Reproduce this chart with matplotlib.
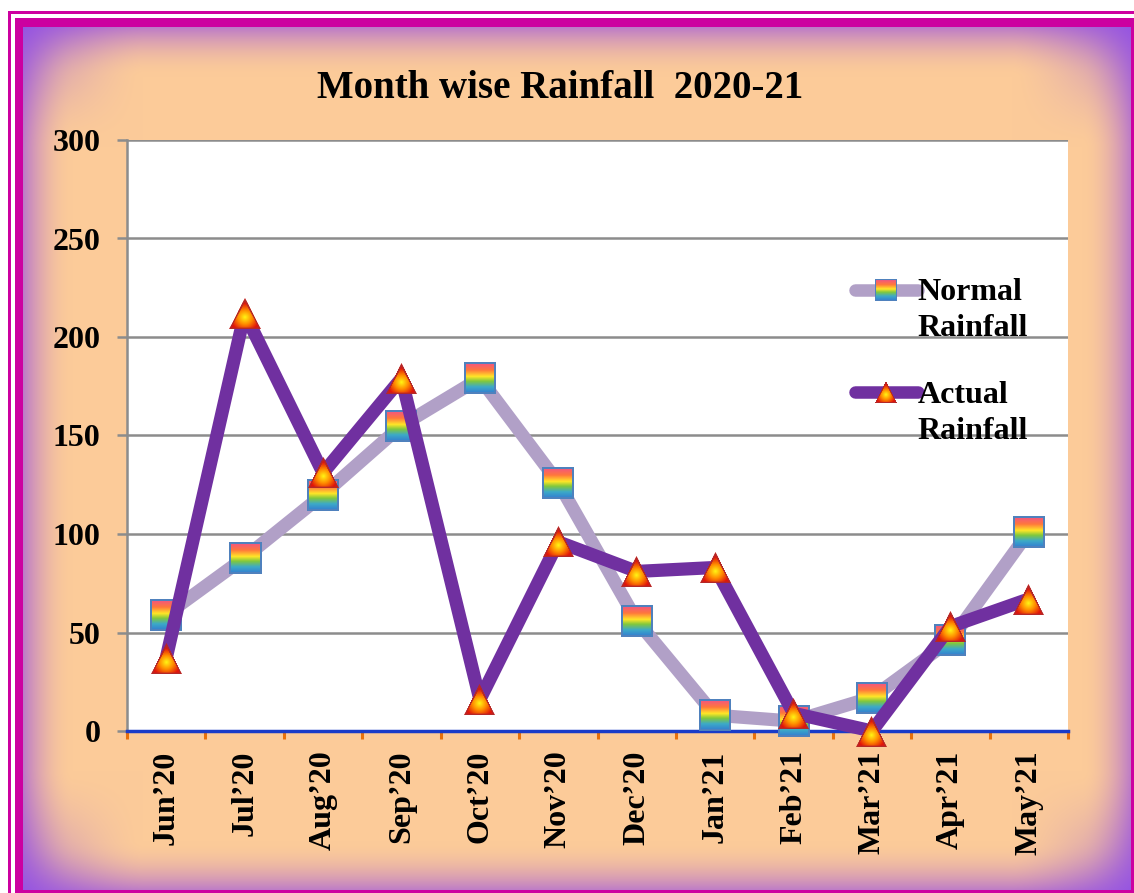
import numpy as np
import matplotlib
matplotlib.use("Agg")
import matplotlib.pyplot as plt
from matplotlib.lines import Line2D
from matplotlib.offsetbox import OffsetImage, AnnotationBbox

# data
months = ["Jun\u201920", "Jul\u201920", "Aug\u201920", "Sep\u201920", "Oct\u201920", "Nov\u201920",
          "Dec\u201920", "Jan\u201921", "Feb\u201921", "Mar\u201921", "Apr\u201921", "May\u201921"]
normal_rainfall = [59, 88, 120, 155, 179, 126, 56, 8, 5, 17, 46, 101]
actual_rainfall = [37, 212, 131, 179, 16, 96, 81, 83, 9, 0, 53, 67]

W, H = 1134, 893
FONT = ["Liberation Serif", "DejaVu Serif"]
NORMAL_COLOR = "#B1A0C7"
ACTUAL_COLOR = "#7030A0"


def background():
    img = np.ones((H, W, 3))
    magenta = np.array([204, 0, 160]) / 255
    img[11:14, 8:] = magenta
    img[11:, 8:11] = magenta
    img[18:, 15:] = magenta
    X, Y = np.meshgrid(np.arange(W), np.arange(H))
    x0, x1, y0, y1 = 23, 1131, 27, 890
    dx = np.minimum(X - x0, x1 - X).astype(float)
    dy = np.minimum(Y - y0, y1 - Y).astype(float)
    fx = np.clip(1 - dx / 50, 0, 1) ** 2
    fy = np.clip(1 - dy / 50, 0, 1) ** 2
    e = 1 - (1 - fx) * (1 - fy)
    c = (np.clip(1 - dx / 120, 0, 1) * np.clip(1 - dy / 120, 0, 1)) ** 1.5
    peach = np.array([252, 203, 153]) / 255
    lilac = np.array([188, 122, 200]) / 255
    purple = np.array([150, 85, 225]) / 255
    col = peach + (lilac - peach) * e[..., None]
    col = col + (purple - col) * c[..., None]
    inside = (X >= x0) & (X < x1) & (Y >= y0) & (Y < y1)
    img[inside] = col[inside]
    return img


def square_marker(n=64):
    t = np.linspace(0, 1, n)
    stops = [0, 0.25, 0.45, 0.6, 0.78, 1.0]
    cols = np.array([[240, 80, 140], [255, 120, 60], [255, 230, 40],
                     [130, 200, 60], [60, 170, 200], [50, 120, 210]]) / 255
    grad = np.stack([np.interp(t, stops, cols[:, k]) for k in range(3)], axis=1)
    img = np.ones((n, n, 4))
    img[:, :, :3] = grad[:, None, :]
    b = 4
    border = np.array([79, 129, 189]) / 255
    img[:b, :, :3] = border
    img[-b:, :, :3] = border
    img[:, :b, :3] = border
    img[:, -b:, :3] = border
    return img


def triangle_marker(n=64):
    img = np.zeros((n, n, 4))
    X, Y = np.meshgrid(np.arange(n) + 0.5, np.arange(n) + 0.5)
    half = Y / n * (n / 2)
    inside = np.abs(X - n / 2) <= half
    d = np.hypot(X - n / 2, Y - n * 0.62) / (n * 0.45)
    d = np.clip(d, 0, 1)
    yellow = np.array([255, 245, 20]) / 255
    orange = np.array([255, 140, 0]) / 255
    red = np.array([225, 20, 10]) / 255
    col = np.where(d[..., None] < 0.5,
                   yellow + (orange - yellow) * (d[..., None] / 0.5),
                   orange + (red - orange) * ((d[..., None] - 0.5) / 0.5))
    img[..., :3] = col
    img[..., 3] = inside.astype(float)
    edge = inside & ((np.abs(X - n / 2) > half - 3.5) | (Y > n - 3))
    img[edge, :3] = np.array([180, 40, 40]) / 255
    return img


SQUARE = square_marker()
TRIANGLE = triangle_marker()


def put_marker(ax, img, x, y, size, z, coords="data"):
    oi = OffsetImage(img, zoom=size / img.shape[0], dpi_cor=False)
    ab = AnnotationBbox(oi, (x, y), xycoords=coords, frameon=False,
                        box_alignment=(0.5, 0.5), annotation_clip=False, pad=0)
    ab.set_zorder(z)
    ax.add_artist(ab)


fig = plt.figure(figsize=(W / 100, H / 100), dpi=100)
bg = fig.add_axes([0, 0, 1, 1], zorder=-5)
bg.imshow(background(), extent=(0, W, H, 0), aspect="auto", interpolation="nearest")
bg.set_xlim(0, W)
bg.set_ylim(H, 0)
bg.axis("off")

ax = fig.add_axes([127 / W, 1 - 731 / H, 941 / W, 591 / H])
ax.set_facecolor("white")
x = np.arange(len(months))

ax.plot(x, normal_rainfall, color=NORMAL_COLOR, lw=9.5, solid_joinstyle="round",
        solid_capstyle="round", zorder=3, clip_on=False)
for xi, yi in zip(x, normal_rainfall):
    put_marker(ax, SQUARE, xi, yi, 32, 4)
ax.plot(x, actual_rainfall, color=ACTUAL_COLOR, lw=9.5, solid_joinstyle="round",
        solid_capstyle="round", zorder=5, clip_on=False)
for xi, yi in zip(x, actual_rainfall):
    put_marker(ax, TRIANGLE, xi, yi, 31, 6)

ax.set_xlim(-0.5, len(months) - 0.5)
ax.set_ylim(0, 300)
ax.set_yticks(np.arange(0, 301, 50))
ax.set_xticks(x)
ax.set_xticklabels(months, rotation=90, fontsize=23, fontweight="bold", family=FONT,
                   va="top", ha="center")
ax.set_xticks(np.arange(-0.5, len(months), 1), minor=True)
for lab in ax.get_yticklabels():
    lab.set_fontsize(23)
    lab.set_fontweight("bold")
    lab.set_family(FONT)

ax.yaxis.grid(True, color="#8C8C8C", lw=1.8)
ax.set_axisbelow(True)
for side in ["top", "right"]:
    ax.spines[side].set_visible(False)
ax.spines["left"].set_color("#8C8C8C")
ax.spines["left"].set_linewidth(1.8)
ax.spines["bottom"].set_color("#1A3CC8")
ax.spines["bottom"].set_linewidth(2.5)
ax.spines["bottom"].set_zorder(2.5)
ax.tick_params(axis="y", length=7, width=1.8, color="#8C8C8C", pad=12)
ax.tick_params(axis="x", which="major", length=0, pad=14)
ax.tick_params(axis="x", which="minor", length=6, width=2.2, color="#E8700A")

# legend drawn by hand so the gradient markers can be used
legend_items = [("Normal\nRainfall", NORMAL_COLOR, SQUARE, 0.7462, 0.767),
                ("Actual\nRainfall", ACTUAL_COLOR, TRIANGLE, 0.5736, 0.592)]
for label, color, img, ly, ty in legend_items:
    ax.add_line(Line2D([0.7736, 0.8406], [ly, ly], transform=ax.transAxes, color=color,
                       lw=9, solid_capstyle="round", clip_on=False, zorder=7))
    put_marker(ax, img, 0.8066, ly, 22, 8, coords="axes fraction")
    ax.text(0.840, ty, label, transform=ax.transAxes, fontsize=23, fontweight="bold",
            family=FONT, va="top", ha="left", linespacing=1.33, zorder=9)

fig.text(560 / W, 1 - 98 / H, "Month wise Rainfall  2020-21", fontsize=28,
         fontweight="bold", family=FONT, ha="center", va="baseline")

fig.savefig("out.png", dpi=100)
